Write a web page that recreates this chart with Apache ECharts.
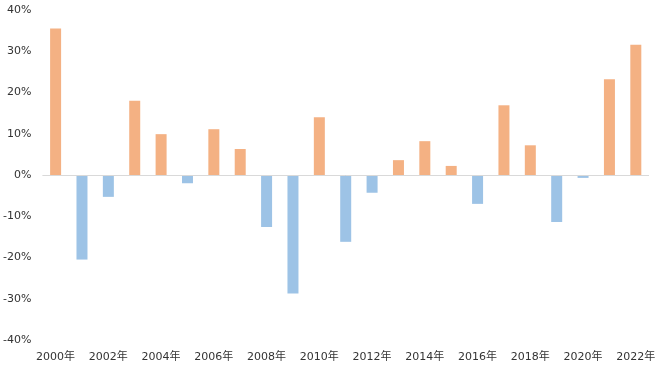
<!DOCTYPE html>
<html>
<head>
<meta charset="utf-8">
<script src="https://cdn.jsdelivr.net/npm/echarts@6/dist/echarts.min.js"></script>
<style>html,body{margin:0;padding:0;background:#fff;}#c{width:660px;height:371px;}</style>
</head>
<body>
<div id="c"></div>
<script>
const categories = ['2000年','2001年','2002年','2003年','2004年','2005年','2006年','2007年','2008年','2009年','2010年','2011年','2012年','2013年','2014年','2015年','2016年','2017年','2018年','2019年','2020年','2021年','2022年'];
const values = [35.5, -20.5, -5.3, 18.0, 9.9, -2.0, 11.1, 6.3, -12.6, -28.7, 14.0, -16.2, -4.3, 3.6, 8.2, 2.2, -7.0, 16.9, 7.2, -11.4, -0.7, 23.2, 31.6];
const yTicks = [-40, -30, -20, -10, 0, 10, 20, 30, 40];

const posColor = '#F4B183';
const negColor = '#9DC3E6';
const font = '"DejaVu Sans", "Noto Sans CJK SC", sans-serif';

const chart = echarts.init(document.getElementById('c'));
chart.setOption({
  animation: false,
  backgroundColor: '#fff',
  grid: { left: 41, right: 11, top: 10, bottom: 31, containLabel: false },
  xAxis: {
    type: 'category',
    data: categories,
    axisLine: { show: false, onZero: false },
    axisTick: { show: false },
    axisLabel: { interval: 1, color: '#333', fontSize: 11, fontFamily: font, margin: 12 },
    splitLine: { show: false }
  },
  yAxis: {
    type: 'value',
    min: yTicks[0],
    max: yTicks[yTicks.length - 1],
    interval: 10,
    axisLine: { show: false },
    axisTick: { show: false },
    splitLine: { show: false },
    axisLabel: { color: '#333', fontSize: 11, fontFamily: font, margin: 11, formatter: v => v + '%' }
  },
  series: [{
    type: 'bar',
    data: values,
    barWidth: 11,
    itemStyle: { color: p => p.value >= 0 ? posColor : negColor },
    markLine: {
      silent: true,
      symbol: 'none',
      label: { show: false },
      lineStyle: { color: '#D9D9D9', type: 'solid', width: 1 },
      data: [{ yAxis: 0 }]
    }
  }]
});
</script>
</body>
</html>
